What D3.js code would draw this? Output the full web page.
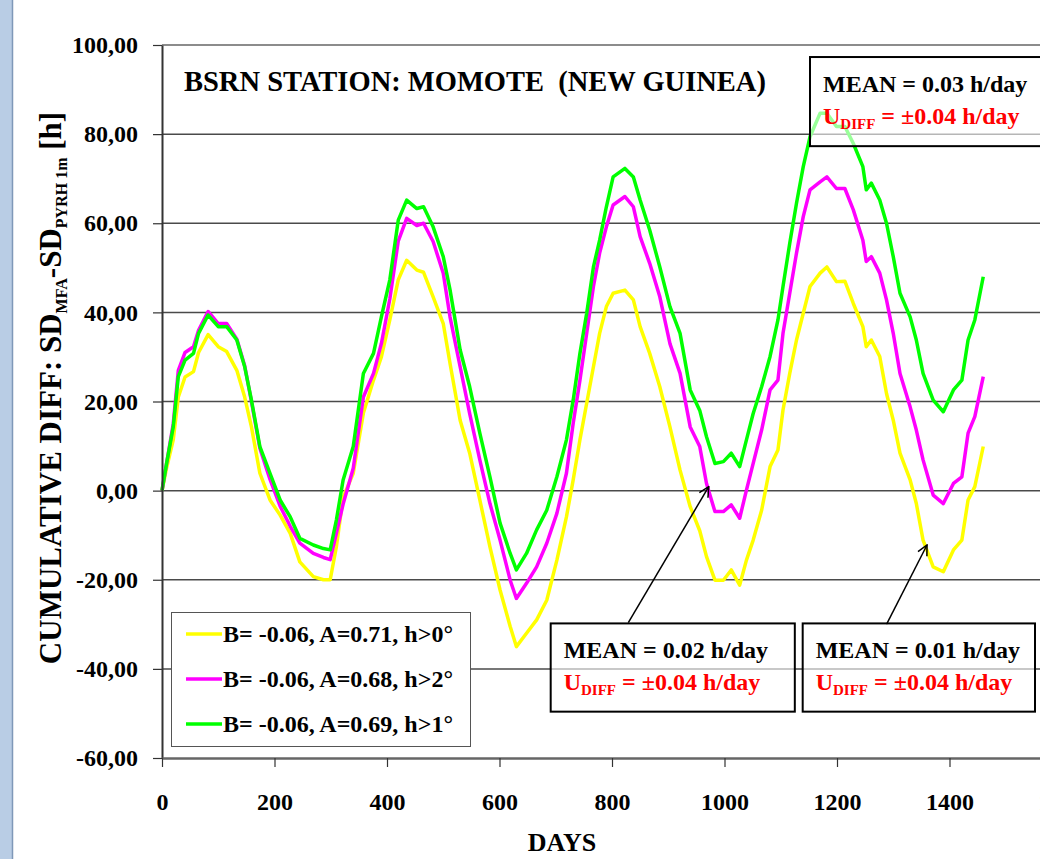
<!DOCTYPE html>
<html>
<head>
<meta charset="utf-8">
<script src="https://cdn.jsdelivr.net/npm/d3@7"></script>
<style>
  body { margin: 0; background: #fff; }
  svg { display: block; }
  text { font-family: "Liberation Serif", "Times New Roman", serif; font-weight: bold; }
</style>
</head>
<body>
<div id="chart"></div>
<script>
// sample days shared by the three curves
var days = [0, 8, 20, 29, 41, 56, 65, 82, 100, 115, 133, 147, 159, 174, 192, 210, 228, 245, 269, 287,
  299, 310, 322, 340, 358, 376, 390, 405, 420, 435, 453, 465, 482, 500, 512, 530, 547, 565, 583, 601,
  619, 630, 648, 666, 684, 702, 719, 731, 743, 755, 767, 778, 790, 802, 823, 838, 850, 867, 885, 903,
  921, 939, 956, 968, 983, 998, 1012, 1027, 1039, 1051, 1066, 1081, 1095, 1104, 1116, 1128, 1140, 1152, 1170, 1182,
  1199, 1214, 1229, 1246, 1252, 1261, 1276, 1288, 1300, 1312, 1330, 1341, 1353, 1371, 1389, 1407, 1422, 1433, 1445, 1460];

// B=-0.06, A=0.71, h>0
var yellowVals = [0, 5, 11.4, 21, 25.5, 26.7, 31, 35, 32.3, 31.2, 27, 21, 14.3, 3.9, -2.1, -5.5, -9.6, -16, -19.3, -20,
  -20, -12.6, -1.5, 3.9, 17.4, 24.8, 30, 38.3, 47.3, 51.7, 49.5, 49, 43.5, 37.5, 28.6, 15.8, 8.4, -2.1, -12.6, -22.3,
  -30.5, -35, -32, -29, -24.6, -15.6, -5.9, 2.4, 11.4, 19.6, 27.8, 35.3, 41.3, 44.3, 45, 42.8, 36.8, 30.8, 23.3, 14.3,
  4.6, -3.6, -9, -14.8, -20.1, -20.1, -17.8, -21.2, -15.6, -11.1, -4.4, 5.4, 9.1, 18.1, 26.3, 33.8, 39.8, 45.8, 48.8, 50.2,
  46.9, 47, 42, 36.8, 32.3, 33.8, 30.1, 21.8, 15.8, 8.4, 2.4, -2.9, -11.1, -17.1, -18.2, -13.3, -11.1, -2.1, 0.9, 9.9];

// B=-0.06, A=0.68, h>2
var magentaVals = [0, 6, 15, 27, 31, 32.3, 36, 40.2, 37.5, 37.5, 34, 28, 20, 9.5, 2.5, -3.5, -8, -11.8, -14.1, -15,
  -15.5, -9.6, -3, 5, 21, 26.3, 33, 43, 56, 61.1, 59.5, 60, 55.9, 48.8, 39, 27.8, 17.3, 6.9, -2.9, -11.1,
  -20.1, -24.2, -20.8, -17.1, -11.8, -5.1, 3.9, 15.1, 24.8, 35.3, 45.8, 53.3, 59.2, 64.1, 66, 63.7, 57, 51, 43.5, 33,
  26.3, 14.3, 9.9, 1.6, -4.7, -4.7, -3.2, -6.2, 0.1, 6.1, 13.6, 22.6, 24.8, 35.3, 44.3, 53.3, 61.5, 67.5, 69.3, 70.4,
  67.8, 67.8, 63, 56.2, 51.4, 52.5, 48.8, 42.8, 35.3, 26.3, 18.8, 13.6, 6.9, -1, -2.9, 1.6, 3.1, 12.9, 16.6, 25.6];

// B=-0.06, A=0.69, h>1
var greenVals = [0, 6, 14.3, 25.6, 29.3, 30.8, 35.3, 39.4, 36.8, 36.8, 33.8, 27.8, 20.3, 9.9, 3.9, -2.1, -5.9, -10.7, -12.2, -13,
  -13.3, -6.6, 2.4, 9.9, 26.3, 30.8, 39, 47.3, 60.7, 65.2, 63.3, 63.7, 59.2, 52.5, 45.1, 31.6, 23.3, 12.9, 3.1, -7.3,
  -14.1, -17.8, -14.1, -8.8, -4.4, 3.1, 11.4, 20.3, 30.8, 39.8, 50.2, 56.2, 63.7, 70.4, 72.3, 70.4, 65.2, 58.5, 50.2, 41.3,
  35.3, 22.6, 18, 12.1, 6.1, 6.5, 8.4, 5.4, 11.4, 17.3, 23.3, 30.1, 38.3, 45.8, 55.5, 64.5, 72.7, 79.4, 84.7, 84.7,
  81.7, 81.7, 77.9, 72.7, 67.5, 69, 65.2, 60, 52.5, 44.3, 39, 33.8, 26.3, 20.3, 17.7, 22.6, 24.8, 33.8, 38.3, 48];

var seriesNames = ["B= -0.06, A=0.71, h>0°", "B= -0.06, A=0.68, h>2°", "B= -0.06, A=0.69, h>1°"];
var seriesColors = ["#ffff00", "#ff00ff", "#00ff00"];

var xTicks = [0, 200, 400, 600, 800, 1000, 1200, 1400, 1600];
var yTicks = [-60, -40, -20, 0, 20, 40, 60, 80, 100];

var width = 1040;
var height = 859;

var xScale = d3.scaleLinear().domain([0, 1600]).range([162, 1062]);
var yScale = d3.scaleLinear().domain([-60, 100]).range([758, 45]);

var locale = d3.formatLocale({ decimal: ",", thousands: ".", grouping: [3], currency: ["", ""], minus: "-" });
var yFormat = locale.format(".2f");

var svg = d3.select("#chart")
    .append("svg")
    .attr("width", width)
    .attr("height", height);

// blue frame strip on the left
svg.append("rect").attr("x", 0).attr("y", 0).attr("width", 12).attr("height", height).attr("fill", "#b9cde5");
svg.append("line").attr("x1", 12.5).attr("x2", 12.5).attr("y1", 0).attr("y2", height)
    .attr("stroke", "#7f98b8").attr("stroke-width", 1.5);

// gridlines
svg.append("g")
    .selectAll("line")
    .data(yTicks.filter(function(d) { return d > -60; }))
    .enter()
    .append("line")
    .attr("x1", xScale(0))
    .attr("x2", xScale(1600))
    .attr("y1", function(d) { return yScale(d); })
    .attr("y2", function(d) { return yScale(d); })
    .attr("stroke", function(d) { return d == 100 ? "#8c8c8c" : "#4a4a4a"; })
    .attr("stroke-width", function(d) { return d == 100 ? 2 : 1.5; });

// curves
var line = d3.line()
    .x(function(d) { return xScale(d[0]); })
    .y(function(d) { return yScale(d[1]); });

var allVals = [yellowVals, magentaVals, greenVals];
allVals.forEach(function(vals, k) {
    svg.append("path")
        .datum(days.map(function(d, i) { return [d, vals[i]]; }))
        .attr("fill", "none")
        .attr("stroke", seriesColors[k])
        .attr("stroke-width", 3.5)
        .attr("stroke-linejoin", "round")
        .attr("d", line);
});

// axes
var yAxis = d3.axisLeft(yScale).tickValues(yTicks).tickSize(9).tickSizeOuter(0).tickPadding(15).tickFormat(yFormat);
var xAxis = d3.axisBottom(xScale).tickValues(xTicks).tickSize(9).tickSizeOuter(0).tickPadding(26).tickFormat(d3.format("d"));

var yAxisG = svg.append("g").attr("transform", "translate(162,0)").call(yAxis);
var xAxisG = svg.append("g").attr("transform", "translate(0,758)").call(xAxis);

yAxisG.select(".domain").attr("stroke", "#333").attr("stroke-width", 2);
xAxisG.select(".domain").attr("stroke", "#666").attr("stroke-width", 2.5);
svg.selectAll(".tick line").attr("stroke", "#333").attr("stroke-width", 1.2);
svg.selectAll(".tick text")
    .attr("fill", "#000")
    .style("font-size", "24px")
    .style("font-family", "'Liberation Serif', serif")
    .style("font-weight", "bold");

// axis titles
svg.append("text")
    .attr("x", 562)
    .attr("y", 851)
    .attr("text-anchor", "middle")
    .style("font-size", "26px")
    .text("DAYS");

var yLabel = svg.append("text")
    .attr("transform", "translate(61,388) rotate(-90)")
    .attr("text-anchor", "middle")
    .style("font-size", "31px");
yLabel.append("tspan").text("CUMULATIVE DIFF: SD");
yLabel.append("tspan").attr("dy", 6).style("font-size", "16px").text("MFA");
yLabel.append("tspan").attr("dy", -6).text("-SD");
yLabel.append("tspan").attr("dy", 6).style("font-size", "16px").text("PYRH 1m");
yLabel.append("tspan").attr("dy", -6).text(" [h]");

// chart title
svg.append("text")
    .attr("x", 184)
    .attr("y", 91)
    .style("font-size", "28.5px")
    .style("white-space", "pre")
    .text("BSRN STATION: MOMOTE  (NEW GUINEA)");

// legend
var legendG = svg.append("g");
legendG.append("rect")
    .attr("x", 171.5).attr("y", 612.5)
    .attr("width", 299).attr("height", 134)
    .attr("fill", "#fff")
    .attr("stroke", "#555")
    .attr("stroke-width", 1);
seriesNames.forEach(function(name, k) {
    var ly = 634 + k * 45;
    legendG.append("line")
        .attr("x1", 186).attr("x2", 222)
        .attr("y1", ly).attr("y2", ly)
        .attr("stroke", seriesColors[k])
        .attr("stroke-width", 3.5);
    legendG.append("text")
        .attr("x", 223)
        .attr("y", ly + 8)
        .style("font-size", "24px")
        .text(name);
});

// arrow marker
svg.append("defs").append("marker")
    .attr("id", "arrow")
    .attr("viewBox", "0 0 12 12")
    .attr("refX", 11).attr("refY", 6)
    .attr("markerWidth", 12).attr("markerHeight", 12)
    .attr("markerUnits", "userSpaceOnUse")
    .attr("orient", "auto")
    .append("path")
    .attr("d", "M1,1 L11,6 L1,11")
    .attr("fill", "none")
    .attr("stroke", "#000")
    .attr("stroke-width", 1.5);

// annotation boxes: day left/right, value top/bottom, mean text
var boxes = [
    { x0: 1152, x1: 1600, y0: 97.3, y1: 77.3, mean: "MEAN = 0.03 h/day" },
    { x0: 691, x1: 1125, y0: -29.8, y1: -49.6, mean: "MEAN = 0.02 h/day" },
    { x0: 1139, x1: 1552, y0: -29.8, y1: -49.6, mean: "MEAN = 0.01 h/day" }
];
// arrows: [tail day, tail value, tip day, tip value]
var arrows = [[829, -29.6, 972, 0.9], [1288, -30.0, 1360, -12.2]];

arrows.forEach(function(a) {
    svg.append("line")
        .attr("x1", xScale(a[0])).attr("y1", yScale(a[1]))
        .attr("x2", xScale(a[2])).attr("y2", yScale(a[3]))
        .attr("stroke", "#000")
        .attr("stroke-width", 1.5)
        .attr("marker-end", "url(#arrow)");
});

boxes.forEach(function(b) {
    var bx = xScale(b.x0), by = yScale(b.y0);
    svg.append("rect")
        .attr("x", bx).attr("y", by)
        .attr("width", xScale(b.x1) - bx)
        .attr("height", yScale(b.y1) - by)
        .attr("fill", "#fff")
        .attr("fill-opacity", 0.6)
        .attr("stroke", "#000")
        .attr("stroke-width", 2);
    svg.append("text")
        .attr("x", bx + 13)
        .attr("y", by + 35)
        .style("font-size", "24px")
        .text(b.mean);
    var u = svg.append("text")
        .attr("x", bx + 13)
        .attr("y", by + 67)
        .attr("fill", "#ff0000")
        .style("font-size", "24px");
    u.append("tspan").text("U");
    u.append("tspan").attr("dy", 5).style("font-size", "15px").text("DIFF");
    u.append("tspan").attr("dy", -5).text(" = ±0.04 h/day");
});
</script>
</body>
</html>
